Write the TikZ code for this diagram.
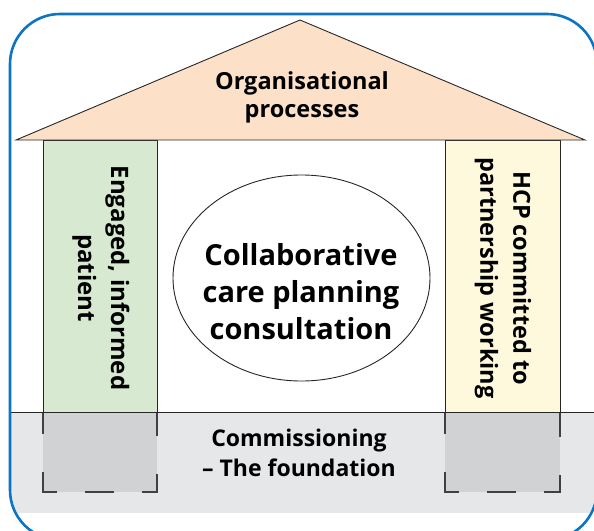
\documentclass[tikz,border=0pt]{standalone}
\usepackage{fontspec}
\setmainfont{Open Sans}
\definecolor{roofc}{HTML}{FCE1C8}
\definecolor{pilgreen}{HTML}{D8E9D2}
\definecolor{pilyellow}{HTML}{FEF9DC}
\definecolor{bandc}{HTML}{E6E7E9}
\definecolor{footc}{HTML}{D1D2D4}
\definecolor{frameblue}{HTML}{0B74C4}
\tikzset{
  thin line/.style={draw=black!85, line width=0.9pt},
  pillarbox/.style={thin line},
  footdash/.style={draw=black!75, line width=1.1pt, dash pattern=on 22pt off 38pt on 34pt off 28pt on 29pt off 28pt on 33pt off 38pt on 22pt off 0pt},
  label/.style={font=\bfseries, align=center, inner sep=0pt},
}
\begin{document}
\begin{tikzpicture}[x=1pt,y=-1pt]
\useasboundingbox (0,0) rectangle (594,530);
% foundation band clipped to frame
\begin{scope}
  \clip[rounded corners=50pt] (10,14) rectangle (597,540);
  \fill[bandc] (0,412) rectangle (600,513);
\end{scope}
% footings
\fill[footc] (43,412) rectangle (157,492);
\fill[footc] (445,412) rectangle (560,492);
\draw[footdash] (43,412) -- (43,492) -- (157,492) -- (157,412);
\draw[footdash] (445,412) -- (445,492) -- (560,492) -- (560,412);
% pillars
\draw[pillarbox, fill=pilgreen] (43,140) rectangle (157,412);
\draw[pillarbox, fill=pilyellow] (445,140) rectangle (560,412);
% roof
\draw[thin line, fill=roofc] (16,140) -- (300,20) -- (585,140) -- cycle;
% ground line
\draw[thin line] (10,412) -- (594,412);
% ellipse
\draw[thin line] (301.5,278) ellipse [x radius=128.5, y radius=103];
% texts
\node[label, font=\bfseries\fontsize{23.5}{28}\selectfont] (roof) at (302,97) {Organisational\\processes};
\node[label, font=\bfseries\fontsize{29}{37}\selectfont] (core) at (301,292) {Collaborative\\care planning\\consultation};
\node[label, rotate=-90, font=\bfseries\fontsize{24}{33}\selectfont] (pat) at (101,278) {Engaged, informed\\patient};
\node[label, rotate=-90, font=\bfseries\fontsize{23.5}{33}\selectfont] (hcp) at (503,278) {HCP committed to\\partnership working};
\node[label, font=\bfseries\fontsize{23}{30}\selectfont] (found) at (299,453) {Commissioning\\– The foundation};
% frame
\draw[frameblue, line width=2.6pt, rounded corners=50pt] (10,14) rectangle (597,540);
\end{tikzpicture}
\end{document}
